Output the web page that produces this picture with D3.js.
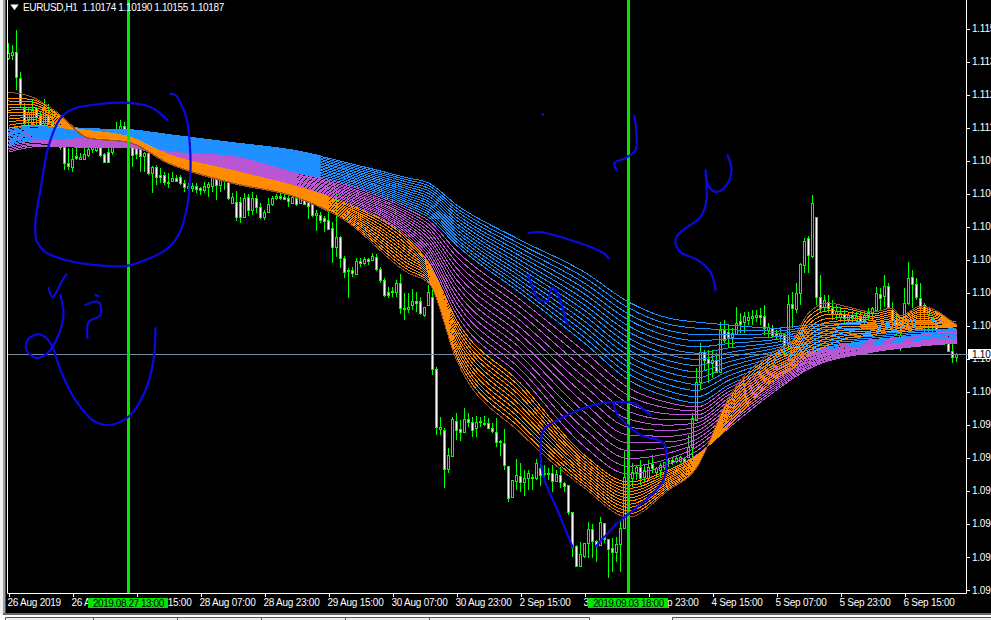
<!DOCTYPE html>
<html><head><meta charset="utf-8">
<script src="https://cdn.jsdelivr.net/npm/d3@7/dist/d3.min.js"></script>
<style>
html,body{margin:0;padding:0;background:#000;overflow:hidden}
svg{display:block}
text{font-family:"Liberation Sans",sans-serif;font-size:10px;letter-spacing:-.25px}
</style></head><body><svg id="c" width="991" height="620"></svg>
<script>
// All prices are stored as points (0.00001) above 1.09000
const BASE = 1.09, POINT = 1e-5;
const symbolLine = "EURUSD,H1  1.10174 1.10190 1.10155 1.10187";
const bidPrice = 1187;
const candleOpen = [
2398,2410,2422,2316,2193,2144,2132,2193,2165,2132,
2165,2136,2103,2034,2034,1968,1952,1997,1985,1985,
2001,2026,2021,2034,2005,2013,2013,2050,2095,2120,
2103,2034,2034,2034,1997,2009,1927,1952,1919,1919,
1886,1895,1907,1911,1886,1866,1866,1874,1866,1858,
1870,1874,1911,1878,1907,1907,1805,1809,1809,1747,
1829,1776,1825,1788,1747,1768,1801,1825,1833,1829,
1825,1805,1825,1805,1825,1817,1813,1756,1756,1743,
1735,1702,1625,1666,1580,1531,1531,1514,1568,1559,
1576,1572,1584,1535,1490,1441,1441,1441,1477,1375,
1371,1388,1404,1404,1347,1388,1420,1126,880,876,
717,770,913,880,868,921,909,884,909,905,
905,884,868,827,823,729,602,668,688,664,
680,680,680,721,696,700,700,668,692,659,
651,541,402,320,361,414,471,422,406,496,
431,394,377,410,475,660,680,705,725,684,
680,737,705,713,725,750,754,750,750,758,
766,807,917,1073,1195,1167,1150,1163,1114,1285,
1277,1257,1269,1322,1318,1326,1334,1338,1347,1343,
1285,1294,1273,1265,1269,1232,1392,1371,1437,1551,
1662,1588,1747,1420,1379,1400,1375,1351,1338,1351,
1330,1347,1326,1338,1326,1343,1359,1367,1433,1424,
1465,1367,1326,1216,1326,1396,1502,1473,1416,1388,
1351,1334,1318,1228,1265,1236,1199,1174];
const candleClose = [
2418,2422,2320,2214,2132,2177,2185,2156,2124,2197,
2132,2103,2062,2042,1968,1956,1985,1989,1993,2005,
2026,2034,2034,2001,1972,1972,2034,2095,2120,2103,
2062,2001,2005,1997,2009,1927,1952,1911,1911,1891,
1891,1907,1895,1886,1870,1874,1874,1862,1858,1874,
1882,1911,1878,1903,1899,1825,1829,1747,1747,1825,
1776,1825,1788,1747,1768,1801,1825,1833,1825,1821,
1813,1829,1801,1829,1801,1792,1756,1764,1735,1731,
1698,1625,1666,1580,1522,1527,1518,1568,1559,1576,
1568,1588,1535,1490,1428,1428,1445,1477,1375,1371,
1379,1404,1396,1355,1379,1441,1126,889,889,717,
774,921,876,868,921,909,876,909,913,901,
884,872,827,831,733,598,672,692,664,680,
700,684,741,692,700,696,668,696,664,647,
541,398,320,369,414,471,422,402,500,431,
390,377,410,475,684,713,705,725,680,713,
725,721,721,733,745,754,745,762,766,750,
807,925,1073,1195,1163,1150,1163,1114,1285,1244,
1257,1273,1314,1310,1343,1338,1343,1347,1338,1294,
1298,1265,1265,1273,1224,1392,1375,1437,1555,1649,
1592,1805,1420,1379,1408,1375,1355,1363,1355,1334,
1347,1334,1343,1318,1347,1359,1375,1437,1416,1465,
1379,1326,1294,1265,1396,1498,1473,1420,1379,1359,
1379,1314,1285,1265,1253,1199,1175,1187];
const candleHigh = [
2459,2451,2512,2341,2214,2197,2226,2197,2177,2230,
2210,2177,2124,2062,2042,2030,2030,2030,2009,2030,
2034,2038,2038,2038,2009,2034,2038,2136,2144,2136,
2124,2083,2062,2062,2013,2013,1956,1960,1948,1931,
1927,1931,1919,1919,1899,1886,1886,1886,1870,1891,
1891,1919,1931,1911,1919,1911,1846,1854,1829,1846,
1841,1850,1837,1805,1776,1825,1833,1841,1845,1850,
1833,1833,1833,1833,1829,1825,1817,1776,1768,1751,
1788,1727,1866,1670,1588,1539,1543,1580,1580,1584,
1580,1600,1596,1543,1498,1461,1461,1490,1514,1437,
1437,1453,1441,1420,1379,1469,1518,1134,930,885,
803,930,946,917,966,946,930,934,930,934,
925,905,925,835,880,729,672,758,741,713,
713,696,758,741,733,721,733,713,725,664,
651,541,406,418,414,500,492,426,520,496,
431,435,439,508,795,770,741,733,754,733,
754,774,725,741,745,762,762,766,770,766,
856,946,1130,1232,1203,1203,1203,1191,1318,1326,
1310,1293,1379,1355,1359,1359,1367,1367,1375,1388,
1314,1306,1285,1298,1273,1428,1441,1478,1559,1662,
1670,1837,1747,1510,1428,1428,1408,1388,1375,1367,
1359,1363,1359,1359,1363,1375,1379,1461,1457,1510,
1478,1400,1347,1306,1457,1563,1531,1498,1478,1396,
1379,1338,1326,1273,1273,1244,1232,1190];
const candleLow = [
2390,2390,2267,2197,2116,2116,2116,2116,2116,2124,
2124,2083,2042,2021,1940,1940,1931,1981,1981,1981,
1993,2009,2013,1993,1972,1968,2001,2042,2083,2062,
2034,1952,1985,1931,1931,1919,1846,1878,1886,1878,
1866,1891,1891,1878,1850,1858,1850,1846,1837,1846,
1829,1850,1817,1850,1858,1817,1805,1731,1723,1747,
1751,1756,1764,1739,1735,1768,1792,1817,1817,1817,
1788,1801,1792,1801,1797,1739,1747,1690,1723,1686,
1694,1559,1584,1539,1498,1416,1502,1510,1543,1551,
1551,1568,1527,1478,1420,1416,1420,1420,1351,1326,
1355,1367,1359,1347,1338,1388,1101,856,856,639,
700,770,835,831,868,889,848,848,889,893,
884,864,807,770,713,582,602,631,623,606,
631,631,672,647,684,672,623,663,639,623,
529,357,316,320,353,353,353,336,406,414,
271,296,336,296,475,620,643,672,651,664,
672,700,684,684,713,725,733,741,741,741,
766,766,917,1040,1122,1069,1089,1110,1110,1232,
1216,1216,1265,1273,1273,1306,1306,1318,1306,1265,
1257,1257,1244,1236,1175,1203,1293,1355,1388,1518,
1518,1580,1388,1359,1359,1355,1326,1326,1318,1314,
1306,1310,1306,1298,1310,1326,1326,1359,1367,1379,
1375,1294,1265,1199,1326,1388,1375,1408,1285,1265,
1273,1257,1244,1224,1224,1195,1150,1155];

// Ribbon lines: candle numbers they were read at, then one row per line
const bandCandles = [0,6,12,20,30,40,56,72,84,100,105,112,128,144,155,165,172,180,192,200,216,228,237];
const orangeCandles = [0,6,12,20,30,40,56,72,84,100,105,112,128,144,155,165,172,180,192,195.5,200,205,210,216,221,223,228,237];
const blueLines = [
[2111,2120,2116,2107,2103,2083,2050,2017,1972,1907,1887,1797,1653,1522,1400,1334,1318,1306,1293,1306,1318,1326,1318],
[2105,2116,2112,2105,2099,2078,2046,2011,1966,1898,1876,1784,1636,1500,1376,1309,1293,1287,1281,1298,1311,1320,1313],
[2100,2111,2108,2102,2095,2073,2042,2004,1959,1889,1865,1772,1620,1477,1351,1284,1267,1268,1270,1289,1304,1313,1308],
[2094,2107,2105,2100,2092,2069,2039,1998,1953,1879,1855,1759,1603,1455,1327,1260,1242,1249,1258,1281,1296,1307,1303],
[2089,2102,2101,2097,2088,2064,2035,1991,1946,1870,1844,1747,1587,1433,1302,1235,1216,1230,1247,1272,1289,1301,1298],
[2083,2098,2097,2095,2084,2059,2031,1985,1940,1861,1833,1734,1570,1410,1278,1210,1191,1212,1235,1264,1282,1295,1293],
[2077,2093,2093,2092,2080,2054,2027,1978,1933,1852,1822,1721,1553,1388,1253,1185,1165,1193,1223,1255,1275,1288,1288],
[2072,2089,2089,2090,2076,2049,2023,1972,1927,1843,1811,1709,1537,1366,1229,1160,1140,1174,1212,1247,1268,1282,1283],
[2066,2084,2086,2087,2073,2045,2020,1965,1920,1833,1801,1696,1520,1344,1204,1136,1114,1155,1200,1238,1260,1276,1278],
[2061,2080,2082,2085,2069,2040,2016,1959,1914,1824,1790,1684,1504,1321,1180,1111,1089,1136,1189,1230,1253,1269,1273],
[2055,2075,2078,2082,2065,2035,2012,1952,1907,1815,1779,1671,1487,1299,1155,1086,1063,1117,1177,1221,1246,1263,1268],
[2049,2071,2074,2079,2061,2030,2008,1946,1901,1806,1768,1658,1470,1277,1131,1061,1038,1098,1165,1213,1239,1257,1263],
[2044,2066,2070,2077,2057,2025,2004,1939,1894,1797,1757,1646,1454,1254,1106,1036,1012,1079,1154,1204,1232,1250,1258],
[2038,2062,2067,2075,2054,2021,2001,1932,1887,1788,1747,1633,1437,1232,1081,1011,987,1060,1142,1195,1224,1244,1253]];
const purpleLines = [
[2099,2107,2095,2079,2067,2021,2001,1932,1887,1788,1747,1633,1437,1232,1081,1011,987,1060,1142,1195,1244,1265,1285],
[2092,2101,2091,2075,2064,2019,1996,1927,1881,1778,1733,1609,1409,1197,1049,988,971,1047,1134,1190,1240,1262,1281],
[2086,2096,2086,2072,2062,2016,1992,1922,1874,1767,1719,1586,1380,1162,1017,965,954,1033,1126,1184,1236,1258,1277],
[2079,2090,2082,2068,2059,2014,1987,1918,1868,1757,1704,1562,1352,1126,985,942,938,1020,1119,1179,1233,1255,1273],
[2073,2085,2077,2065,2057,2011,1982,1913,1862,1746,1690,1539,1323,1091,953,919,921,1006,1111,1174,1229,1251,1269],
[2066,2079,2073,2062,2054,2009,1978,1908,1855,1736,1676,1515,1295,1056,921,896,905,993,1103,1168,1225,1248,1265],
[2059,2073,2069,2058,2052,2006,1973,1903,1849,1726,1662,1491,1267,1021,888,874,889,979,1095,1163,1221,1244,1260],
[2053,2068,2064,2055,2049,2004,1968,1898,1843,1715,1648,1468,1238,986,856,851,872,966,1087,1158,1217,1241,1256],
[2046,2062,2060,2051,2047,2001,1963,1894,1837,1705,1633,1444,1210,950,824,828,856,952,1080,1153,1214,1237,1252],
[2040,2057,2055,2048,2044,1999,1959,1889,1830,1694,1619,1421,1181,915,792,805,839,939,1072,1147,1210,1234,1248],
[2033,2051,2051,2044,2042,1996,1954,1884,1824,1684,1605,1397,1153,880,760,782,823,925,1064,1142,1206,1230,1244],
[2026,2045,2047,2041,2039,1994,1949,1879,1818,1674,1591,1373,1125,845,728,759,807,912,1056,1137,1202,1227,1240],
[2020,2040,2042,2037,2037,1991,1945,1875,1811,1663,1577,1350,1096,809,696,736,790,898,1048,1131,1199,1223,1236],
[2013,2034,2038,2034,2034,1989,1940,1870,1805,1653,1563,1326,1068,774,664,713,774,884,1040,1126,1195,1220,1232]];
const orangeLines = [
[2111,2124,2116,2099,2075,2001,1936,1870,1805,1653,1559,1326,1068,774,664,713,770,893,1089,1122,1183,1224,1253,1265,1281,1277,1293,1298],
[2123,2134,2122,2097,2073,1998,1932,1866,1799,1641,1552,1311,1050,762,651,706,766,903,1099,1132,1199,1240,1265,1274,1290,1283,1301,1299],
[2136,2145,2127,2094,2071,1995,1927,1863,1792,1628,1544,1296,1031,749,638,698,761,914,1110,1142,1214,1255,1277,1282,1298,1289,1309,1299],
[2148,2155,2133,2092,2069,1992,1923,1859,1786,1616,1537,1282,1013,737,625,691,757,924,1120,1152,1230,1271,1288,1291,1307,1295,1318,1300],
[2160,2166,2138,2089,2067,1989,1918,1855,1779,1604,1529,1267,994,725,612,683,752,935,1131,1162,1245,1286,1300,1299,1315,1301,1326,1301],
[2173,2176,2144,2087,2066,1986,1914,1852,1773,1592,1522,1252,976,713,599,676,748,945,1141,1172,1261,1302,1312,1308,1324,1307,1334,1302],
[2185,2186,2149,2084,2064,1983,1909,1848,1767,1579,1515,1237,957,700,586,668,743,955,1151,1182,1277,1318,1324,1317,1332,1313,1342,1302],
[2197,2197,2155,2081,2062,1980,1905,1844,1760,1567,1507,1222,939,688,573,661,738,966,1162,1192,1292,1333,1336,1325,1341,1319,1350,1303],
[2209,2207,2160,2079,2060,1977,1900,1840,1754,1555,1500,1207,920,676,560,653,734,976,1172,1202,1308,1349,1347,1334,1349,1325,1359,1304],
[2222,2218,2166,2076,2058,1974,1896,1837,1747,1542,1492,1193,902,663,547,646,729,987,1183,1212,1323,1364,1359,1342,1358,1331,1367,1304],
[2234,2228,2171,2074,2056,1971,1891,1833,1741,1530,1485,1178,883,651,533,638,725,997,1193,1222,1339,1380,1371,1351,1366,1337,1375,1305],
[2258,2238,2177,2071,2054,1968,1887,1829,1735,1518,1478,1163,864,639,520,631,721,1007,1203,1232,1355,1396,1379,1359,1375,1343,1383,1306]];

// Time axis: a label every 16 hourly candles
const timeTickCandles = [0,16,32,48,64,80,96,112,128,144,160,176,192,208,224];
const timeTickLabels = ["26 Aug 2019","26 Aug 23:00","27 Aug 15:00","28 Aug 07:00","28 Aug 23:00","29 Aug 15:00","30 Aug 07:00","30 Aug 23:00","2 Sep 15:00","3 Sep 07:00","3 Sep 23:00","4 Sep 15:00","5 Sep 07:00","5 Sep 23:00","6 Sep 15:00"];
const priceTicks = [2518,2383,2248,2113,1978,1843,1708,1573,1438,1303,1168,1033,898,763,628,493,358,223];
const markerCandles = [30,155];
const markerLabels = ["2019.08.27 13:00","2019.09.03 18:00"];

// Hand-drawn annotations: [candle, price points]
const inkStrokes = [
[[40.5,2251],[41.75,2246],[43,2214],[44.5,2152],[45.25,2062],[45.5,1940],[44.5,1776],[42.5,1674],[39.25,1612],[34.25,1572],[29.25,1547],[21.75,1551],[14.25,1572],[9.25,1604],[7,1653],[6.75,1735],[8,1858],[9.75,2021],[12,2124],[13.75,2165],[16.75,2193],[23,2210],[30,2214],[35.5,2197],[39.75,2144]],
[[10,1457],[11,1420],[12.25,1449],[13.5,1490],[14.5,1514]],
[[13,1428],[13.75,1347],[12.5,1265],[10,1195],[7,1171],[4.5,1203],[4.75,1244],[7.5,1269],[10,1244],[11,1212]],
[[11,1224],[13,1122],[16.75,999],[21.75,909],[25.5,897],[30.5,938],[34.25,1040],[36.25,1163],[36.75,1293]],
[[19.25,1388],[22.5,1400],[23,1347],[20,1318],[19.75,1253]],
[[21.75,1428],[22.5,1424]],
[[133.5,2169],[133.75,2165]],
[[156.5,2161],[157,2083],[156.75,2021],[154.25,1989],[151.5,1968],[152,1940]],
[[179.75,2001],[180.75,1940],[179.5,1878],[177,1850],[175,1874],[174.25,1940],[174.5,1817],[173,1747],[170.5,1715],[168,1686],[166.75,1653],[168,1604],[172.25,1572],[175.5,1522],[176.75,1449]],
[[130,1682],[133,1686],[138,1666],[145.5,1625],[148.75,1600],[150,1580]],
[[130,1510],[131.25,1449],[132.5,1412],[134.75,1404],[135.75,1457],[136.75,1449],[138.5,1379],[139.25,1326],[140,1306]],
[[141,398],[137.25,549],[133.75,684],[133,807],[133.75,876],[138.75,930],[146.25,979],[152.25,991],[156.25,987],[160.5,938]],
[[151.25,987],[152.25,938],[154.75,897],[158,856],[163.75,823],[164.5,766],[163.75,672],[161.25,619],[156.25,549],[152.25,496],[146.75,398]]
];

const price = p => BASE + p * POINT;
const svg = d3.select("#c");
const x = d3.scaleLinear().domain([0,237]).range([8.5,956.5]);
const y = d3.scaleLinear().domain([1.0921,1.11635]).range([593,0]);
const Y = p => y(price(p));

svg.append("rect").attr("width",991).attr("height",620).attr("fill","#000");

// window chrome
svg.append("rect").attr("x",0).attr("y",0).attr("width",3).attr("height",620).attr("fill","#f0f0f0");
svg.append("rect").attr("x",3).attr("y",0).attr("width",2.5).attr("height",620).attr("fill","#a0a0a0");
svg.append("rect").attr("x",3).attr("y",613).attr("width",988).attr("height",2).attr("fill","#696969");
svg.append("rect").attr("x",0).attr("y",615).attr("width",991).attr("height",5).attr("fill","#fff");
svg.append("rect").attr("x",5).attr("y",617).attr("width",584).attr("height",3).attr("fill","#f0f0f0");
svg.append("rect").attr("x",673).attr("y",617).attr("width",318).attr("height",3).attr("fill","#f0f0f0");
svg.append("path").attr("d","M5.5 620V617.5H589.5V620M672.5 620V617.5H991").attr("fill","none").attr("stroke","#555");
svg.selectAll("line.tab").data([93,177,261,345,429]).enter().append("line").attr("x1",d=>d+.5).attr("x2",d=>d+.5).attr("y1",618).attr("y2",620).attr("stroke","#555");

// candles
const g = svg.append("g").attr("shape-rendering","crispEdges");
const idx = d3.range(candleOpen.length);
g.selectAll("line.w").data(idx).enter().append("line")
 .attr("x1",i=>x(i)).attr("x2",i=>x(i))
 .attr("y1",i=>Y(candleHigh[i])).attr("y2",i=>Y(candleLow[i]))
 .attr("stroke","#00ff00");
g.selectAll("rect.b").data(idx).enter().append("rect")
 .attr("x",i=>x(i)-1).attr("width",2)
 .attr("y",i=>Math.round(Y(Math.max(candleOpen[i],candleClose[i])))+.5)
 .attr("height",i=>Math.max(1,Math.round(Math.abs(Y(candleOpen[i])-Y(candleClose[i])))))
 .attr("fill",i=>candleClose[i]<candleOpen[i]?"#fff":"#000")
 .attr("stroke","#00ff00");

// bid line
svg.append("line").attr("x1",7).attr("x2",966).attr("y1",Math.round(Y(bidPrice))+.5).attr("y2",Math.round(Y(bidPrice))+.5).attr("stroke","#778899");

// ribbon: thin lines, and a heavier pass where the reference's lines merge
const defs = svg.append("defs");
const rib = svg.append("g").attr("fill","none").attr("shape-rendering","crispEdges");
function drawBand(name,rows,knots,color,denseFrom,denseTo){
  const line = d3.line().x((d,k)=>x(knots[k])).y(d=>Y(d)).curve(d3.curveMonotoneX);
  defs.append("clipPath").attr("id","dense-"+name).append("rect")
    .attr("x",x(denseFrom)).attr("y",0).attr("width",x(denseTo)-x(denseFrom)).attr("height",593);
  const dense = rib.append("g").attr("clip-path",`url(#dense-${name})`);
  rows.forEach((r,j)=>{
    const c = typeof color==="function"?color(j):color;
    rib.append("path").attr("d",line(r)).attr("stroke",c).attr("stroke-width",1);
    dense.append("path").attr("d",line(r)).attr("stroke",c).attr("stroke-width",1.9);
  });
}
drawBand("purple",purpleLines,bandCandles,"#ba55d3",10,72);
drawBand("blue",blueLines,bandCandles,"#1e90ff",12,78);
drawBand("orange",orangeLines,orangeCandles,j=>j===orangeLines.length-1?"#a0522d":"#ff8c00",14,80);

// frame
svg.append("path").attr("d","M7.5 0V593.5H966.5V0").attr("fill","none").attr("stroke","#fff");

// axes
const xAxis = d3.axisBottom(x).tickValues(timeTickCandles).tickFormat((d,i)=>timeTickLabels[i]).tickSize(3).tickPadding(3);
const gx = svg.append("g").attr("transform","translate(0,593.5)").call(xAxis);
gx.select(".domain").remove();
gx.selectAll("line").attr("stroke","#fff").attr("shape-rendering","crispEdges");
gx.selectAll("text").attr("fill","#fff").attr("text-anchor","start").attr("x",-1.5).attr("y",12).attr("dy",null)
  .style("font-family",'"Liberation Sans",sans-serif').style("font-size","10px");

const yAxis = d3.axisRight(y).tickValues(priceTicks.map(price)).tickFormat(d3.format(".5f")).tickSize(3).tickPadding(2);
const gy = svg.append("g").attr("transform","translate(966.5,0)").call(yAxis);
gy.select(".domain").remove();
gy.selectAll("line").attr("stroke","#fff").attr("shape-rendering","crispEdges");
gy.selectAll("text").attr("fill","#fff").attr("x",5.5)
  .style("font-family",'"Liberation Sans",sans-serif').style("font-size","10px");

// bid label
const by = Math.round(Y(bidPrice));
svg.append("line").attr("x1",966).attr("x2",969).attr("y1",by+.5).attr("y2",by+.5).attr("stroke","#778899");
svg.append("rect").attr("x",968).attr("y",by-5).attr("width",23).attr("height",10).attr("fill","#fff");
svg.append("text").attr("x",972).attr("y",by+4).attr("fill","#000").text(d3.format(".5f")(price(bidPrice)));

// time markers
markerCandles.forEach((c,k)=>{
  svg.append("rect").attr("x",x(c)-1.5).attr("y",0).attr("width",3).attr("height",593).attr("fill","#00e600").attr("shape-rendering","crispEdges");
  svg.append("rect").attr("x",x(c)-40.5).attr("y",597.5).attr("width",80).attr("height",10.5).attr("fill","#00e600").attr("shape-rendering","crispEdges");
  svg.append("text").attr("x",x(c)-35.5).attr("y",606.5).attr("fill","#000").attr("textLength",71).attr("lengthAdjust","spacing").text(markerLabels[k]);
});

// ink
const inkLine = d3.line().x(d=>x(d[0])).y(d=>Y(d[1])).curve(d3.curveCatmullRom.alpha(.5));
svg.selectAll("path.ink").data(inkStrokes).enter().append("path").attr("class","ink")
 .attr("d",inkLine).attr("fill","none").attr("stroke","#0a0ae0").attr("stroke-width",2.2).attr("stroke-linecap","round").attr("stroke-linejoin","round");

// header
svg.append("path").attr("d",d3.symbol(d3.symbolTriangle,30)()).attr("transform","translate(14.5,6.5) rotate(180) scale(1,.8)").attr("fill","#fff");
svg.append("text").attr("x",23).attr("y",11).attr("fill","#fff").attr("xml:space","preserve").attr("textLength",201).attr("lengthAdjust","spacing").style("white-space","pre").text(symbolLine);
</script></body></html>
